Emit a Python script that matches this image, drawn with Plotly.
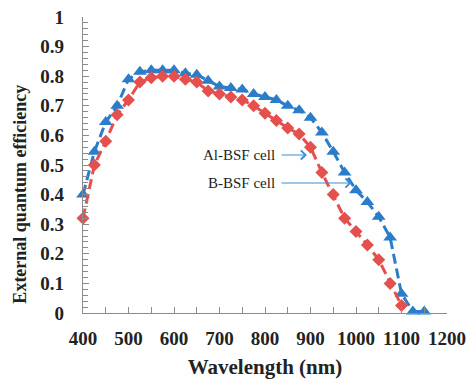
import plotly.graph_objects as go

wavelength_b = [400, 425, 450, 475, 500, 525, 550, 575, 600, 625, 650, 675, 700, 725, 750,
                775, 800, 825, 850, 875, 900, 925, 950, 975, 1000, 1025, 1050, 1075, 1100,
                1125, 1150]
eqe_b = [0.40, 0.545, 0.645, 0.70, 0.79, 0.815, 0.82, 0.82, 0.82, 0.81, 0.805, 0.785, 0.765,
         0.76, 0.755, 0.74, 0.73, 0.72, 0.70, 0.685, 0.66, 0.61, 0.545, 0.475, 0.415, 0.375,
         0.325, 0.255, 0.065, 0.005, 0.005]

wavelength_al = [400, 425, 450, 475, 500, 525, 550, 575, 600, 625, 650, 675, 700, 725, 750,
                 775, 800, 825, 850, 875, 900, 925, 950, 975, 1000, 1025, 1050, 1075, 1100]
eqe_al = [0.32, 0.50, 0.58, 0.67, 0.72, 0.78, 0.795, 0.80, 0.80, 0.79, 0.78, 0.75, 0.74,
          0.73, 0.72, 0.70, 0.675, 0.65, 0.625, 0.605, 0.56, 0.475, 0.40, 0.32, 0.275, 0.23,
          0.18, 0.10, 0.025]

x_ticks = [400, 500, 600, 700, 800, 900, 1000, 1100, 1200]
y_ticks = [0, 0.1, 0.2, 0.3, 0.4, 0.5, 0.6, 0.7, 0.8, 0.9, 1]

BLUE = "#2B7DC9"
RED = "#E4504E"
ARROW = "#3A8FD4"
FONT = "Liberation Serif, Times New Roman, serif"

fig = go.Figure()
fig.add_trace(go.Scatter(
    x=wavelength_b, y=eqe_b, mode="lines+markers", name="B-BSF cell",
    line=dict(color=BLUE, width=3, dash="10px,5px"),
    marker=dict(symbol="triangle-up", size=12, color=BLUE),
    cliponaxis=False,
))
fig.add_trace(go.Scatter(
    x=wavelength_al, y=eqe_al, mode="lines+markers", name="Al-BSF cell",
    line=dict(color=RED, width=3, dash="10px,5px"),
    marker=dict(symbol="diamond", size=10, color=RED),
    cliponaxis=False,
))

# labels with arrows
labels = [("Al-BSF cell", 833, 0.534, 892), ("B-BSF cell", 833, 0.439, 990)]
for txt, x_tail, yv, x_tip in labels:
    fig.add_annotation(x=x_tail - 6, y=yv, text=txt, showarrow=False, xanchor="right",
                       yanchor="middle", font=dict(family=FONT, size=15, color="#222"))
    fig.add_annotation(x=x_tip, y=yv, ax=x_tail, ay=yv, axref="x", ayref="y", text="",
                       showarrow=True, arrowhead=4, arrowsize=1.6, arrowwidth=1.1,
                       arrowcolor=ARROW)

# y-axis title (placed lower than centre, as in the original)
fig.add_annotation(text="External quantum efficiency", xref="paper", yref="paper",
                   x=-0.173, y=0.40, textangle=-90, showarrow=False,
                   xanchor="center", yanchor="middle",
                   font=dict(family=FONT, size=18, color="#222", weight="bold"))

axis_common = dict(
    showgrid=False, zeroline=False, showline=True, linecolor="#8c8c8c", linewidth=1.2,
    ticks="inside", tickcolor="#8c8c8c", ticklen=6, tickwidth=1, automargin=False,
    tickfont=dict(family=FONT, size=19, color="#222", weight="bold"),
)

fig.update_xaxes(range=[400, 1200], tickvals=x_ticks, ticklabelstandoff=8,
                 minor=dict(dtick=50, ticks="inside", ticklen=6, tickcolor="#8c8c8c"),
                 title=dict(text="Wavelength (nm)", standoff=18,
                            font=dict(family=FONT, size=21, color="#222", weight="bold")),
                 **axis_common)
fig.update_yaxes(range=[0, 1], tickvals=y_ticks, ticklabelstandoff=14,
                 minor=dict(dtick=0.02, ticks="inside", ticklen=5, tickcolor="#8c8c8c"),
                 **axis_common)

fig.update_layout(
    width=468, height=379, showlegend=False,
    margin=dict(l=83, r=21, t=17, b=66),
    paper_bgcolor="white", plot_bgcolor="white",
    font=dict(family=FONT),
)

fig.write_html("out.html", config={"displayModeBar": False},
               post_script="document.body.style.margin='0';document.body.style.overflow='hidden';")
